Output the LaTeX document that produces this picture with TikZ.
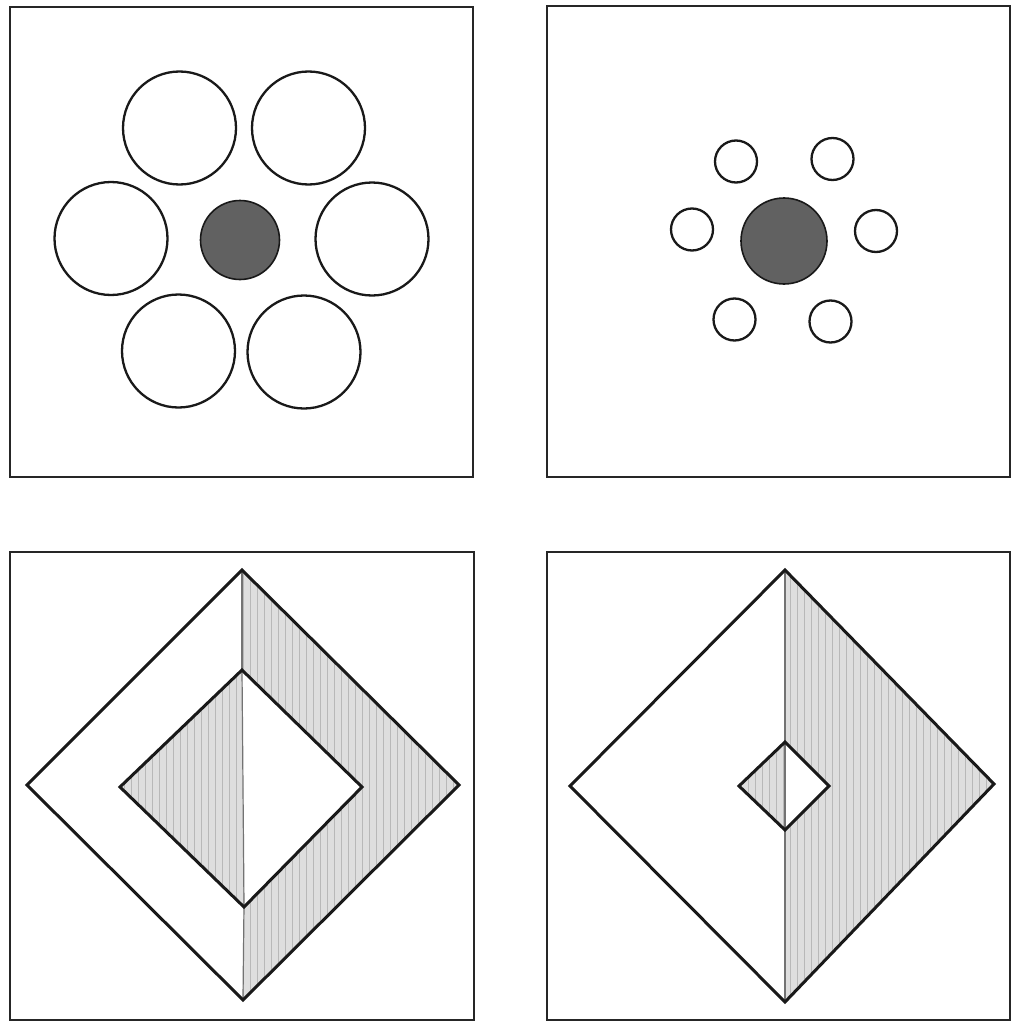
\documentclass[tikz,border=0pt]{standalone}
\begin{document}
\begin{tikzpicture}[x=1pt,y=-1pt,
  frame/.style={line width=2.8pt,draw=black!85},
  ring/.style={line width=2.3pt,draw=black!90},
  core/.style={line width=1.6pt,draw=black!90,fill=black!62},
  outline/.style={line width=3pt,draw=black!90,line join=miter},
  shade/.style={fill=black!13},
  hatch/.style={draw=black!28,line width=0.7pt},
  divide/.style={draw=black!55,line width=1.2pt}]
\useasboundingbox (0,0) rectangle (1011,1022);
% frames
\draw[frame] (10,7) rectangle (473,477);
\draw[frame] (547,6) rectangle (1010,477);
\draw[frame] (10,552) rectangle (474,1020);
\draw[frame] (547,552) rectangle (1010,1020);
% panel 1: large ring circles
\foreach \cx/\cy in {179.5/128, 308.5/128, 111/238.5, 372/239, 178.5/351, 304/352}
  \draw[ring] (\cx,\cy) circle (56.5);
\draw[core] (240,240) circle (39.5);
% panel 2: small ring circles
\foreach \cx/\cy in {736/161.5, 832.5/159, 692/229.5, 876/231, 734.5/319.5, 830.5/321.5}
  \draw[ring] (\cx,\cy) circle (21);
\draw[core] (784,241) circle (43);
% panel 3: big diamond with large inner diamond
\fill[shade] (242,570) -- (459,785) -- (243,1000) -- (244,907) -- (362,787) -- (242,670) -- cycle;
\fill[shade] (242,670) -- (120,787) -- (244,907) -- cycle;
\begin{scope}
  \clip (242,570) -- (459,785) -- (243,1000) -- (244,907) -- (362,787) -- (242,670) -- cycle
        (242,670) -- (120,787) -- (244,907) -- cycle;
  \foreach \xx in {124,131,...,460} \draw[hatch] (\xx,560) -- (\xx,1010);
\end{scope}
\draw[divide] (242,572) -- (242,670);
\draw[divide] (242,670) -- (244,905);
\draw[divide] (244,905) -- (243,998);
\draw[outline] (242,570) -- (459,785) -- (243,1000) -- (27,785) -- cycle;
\draw[outline] (242,670) -- (362,787) -- (244,907) -- (120,787) -- cycle;
% panel 4: big diamond with small inner diamond
\fill[shade] (785,570) -- (994,784) -- (785,1002) -- (785,830) -- (829,786) -- (785,742) -- cycle;
\fill[shade] (785,742) -- (739,786) -- (785,830) -- cycle;
\begin{scope}
  \clip (785,570) -- (994,784) -- (785,1002) -- (785,830) -- (829,786) -- (785,742) -- cycle
        (785,742) -- (739,786) -- (785,830) -- cycle;
  \foreach \xx in {741,748,...,995} \draw[hatch] (\xx,560) -- (\xx,1010);
\end{scope}
\draw[divide] (785,572) -- (785,1000);
\draw[outline] (785,570) -- (994,784) -- (785,1002) -- (570,786) -- cycle;
\draw[outline] (785,742) -- (829,786) -- (785,830) -- (739,786) -- cycle;
\end{tikzpicture}
\end{document}
